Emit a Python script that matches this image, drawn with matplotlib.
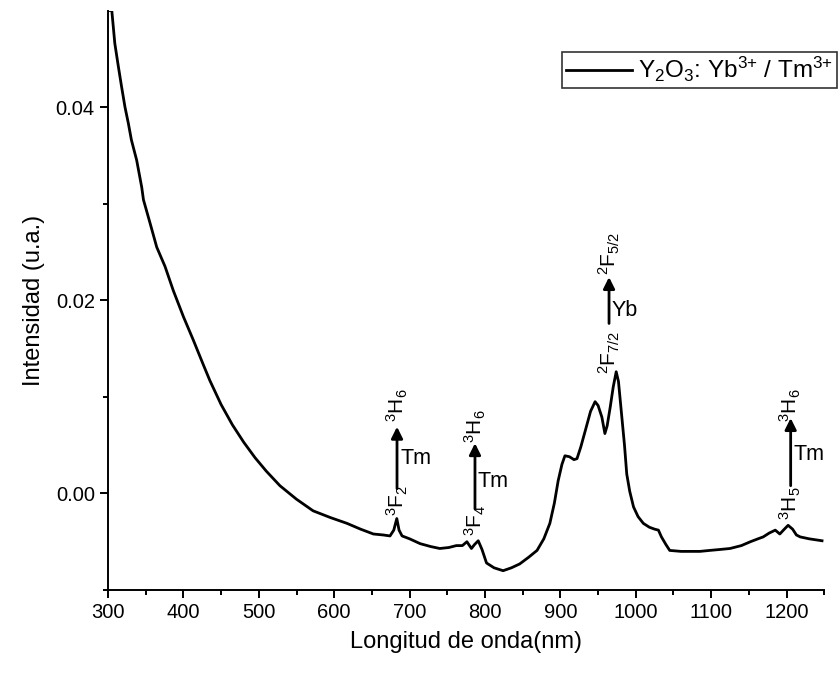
import matplotlib
matplotlib.use("Agg")
import matplotlib.pyplot as plt
from matplotlib.ticker import MultipleLocator, FixedLocator, FormatStrFormatter

plt.rcParams['font.family'] = ['Liberation Sans', 'DejaVu Sans']
plt.rcParams['mathtext.fontset'] = 'custom'
plt.rcParams['mathtext.rm'] = 'Liberation Sans'
plt.rcParams['mathtext.it'] = 'Liberation Sans:italic'
plt.rcParams['mathtext.bf'] = 'Liberation Sans:bold'
plt.rcParams['mathtext.default'] = 'regular'

# ---- data ----
wavelength = [300, 305, 309, 313.7, 318, 322.5, 327, 331, 338, 344.7, 347, 355.7, 364.6,
              375.6, 386.6, 400, 413, 426, 435, 450, 465, 480, 495, 510, 528, 550, 572,
              595, 617, 635, 652, 665, 674, 679, 683, 686, 690, 700, 714, 728, 740, 752,
              762, 770, 776, 782, 786, 791, 796, 802, 812, 824, 835, 846, 858, 869, 878,
              886, 892, 897, 902, 906, 912, 918, 922, 927, 933, 940, 946, 950, 955, 959,
              962, 966, 970, 974, 977, 981, 985, 988, 992, 997, 1003, 1010, 1018, 1025,
              1030, 1034, 1040, 1045, 1060, 1072, 1085, 1098, 1112, 1125, 1140, 1152,
              1162, 1169, 1177, 1185, 1191, 1197, 1202, 1208, 1213, 1218, 1230, 1247]
intensity = [0.0500, 0.0500, 0.0466, 0.0442, 0.0421, 0.0400, 0.0383, 0.0366, 0.0345, 0.0317,
             0.0304, 0.0280, 0.0255, 0.0235, 0.0210, 0.0183, 0.0159, 0.0134, 0.0117, 0.0092,
             0.0071, 0.0053, 0.0037, 0.0023, 0.0008, -0.0006, -0.0018, -0.0025, -0.0031,
             -0.0037, -0.0042, -0.0043, -0.0044, -0.0038, -0.0026, -0.0038, -0.0044, -0.0047,
             -0.0052, -0.0055, -0.0057, -0.0056, -0.0054, -0.0054, -0.0050, -0.0057, -0.0053,
             -0.0049, -0.0058, -0.0072, -0.0077, -0.0080, -0.0077, -0.0073, -0.0066, -0.0059,
             -0.0047, -0.0031, -0.0010, 0.0013, 0.0030, 0.0039, 0.0038, 0.0035, 0.0036, 0.0048,
             0.0065, 0.0085, 0.0095, 0.0091, 0.0079, 0.0062, 0.0070, 0.0089, 0.0110, 0.0126,
             0.0116, 0.0083, 0.0050, 0.0020, 0.0002, -0.0014, -0.0024, -0.0031, -0.0035,
             -0.0037, -0.0038, -0.0045, -0.0053, -0.0059, -0.0060, -0.0060, -0.0060, -0.0059,
             -0.0058, -0.0057, -0.0054, -0.0050, -0.0047, -0.0045, -0.0041, -0.0038, -0.0042,
             -0.0037, -0.0033, -0.0037, -0.0043, -0.0045, -0.0047, -0.0049]

series_label = r'Y$_2$O$_3$: Yb$^{3{+}}$ / Tm$^{3{+}}$'
x_label = 'Longitud de onda(nm)'
y_label = 'Intensidad (u.a.)'

# transitions: (arrow x, tail y, tip y, lower label, upper label, ion)
transitions = [
    (683.3, 0.0005, 0.0069, r'$^3$F$_2$', r'$^3$H$_6$', 'Tm'),
    (786.7, -0.0016, 0.0052, r'$^3$F$_4$', r'$^3$H$_6$', 'Tm'),
    (964.5, 0.0176, 0.0224, r'$^2$F$_{7/2}$', r'$^2$F$_{5/2}$', 'Yb'),
    (1205.4, 0.0008, 0.0078, r'$^3$H$_5$', r'$^3$H$_6$', 'Tm'),
]

fig = plt.figure(figsize=(8.4, 6.74), dpi=100)
ax = fig.add_axes([0.1286, 0.1246, 0.8527, 0.8598])

ax.plot(wavelength, intensity, color='black', lw=2.0, label=series_label)

ax.set_xlim(300, 1250)
ax.set_ylim(-0.01, 0.05)
ax.xaxis.set_major_locator(MultipleLocator(100))
ax.xaxis.set_minor_locator(MultipleLocator(50))
ax.yaxis.set_major_locator(FixedLocator([0.0, 0.02, 0.04]))
ax.yaxis.set_minor_locator(FixedLocator([-0.01, 0.01, 0.03]))
ax.yaxis.set_major_formatter(FormatStrFormatter('%.2f'))

for s in ['top', 'right']:
    ax.spines[s].set_visible(False)
for s in ['left', 'bottom']:
    ax.spines[s].set_linewidth(1.4)
ax.tick_params(which='major', direction='out', length=6, width=1.4, labelsize=14.5)
ax.tick_params(which='minor', direction='out', length=3.5, width=1.4)

ax.set_xlabel(x_label, fontsize=17, labelpad=6)
ax.set_ylabel(y_label, fontsize=17, labelpad=8)

leg = ax.legend(loc='upper right', bbox_to_anchor=(1.018, 0.929), fontsize=17.5,
                frameon=True, fancybox=False, handlelength=2.75, borderpad=0.15,
                handletextpad=0.25, borderaxespad=0.0)
leg.get_frame().set_edgecolor('black')
leg.get_frame().set_linewidth(1.2)

# annotations
lower_offsets = [-0.0012, -0.0012, -0.0030, -0.0018]
upper_offsets = [0.0022, 0.0018, 0.0025, 0.0013]
ion_offsets = [-0.0033, -0.0040, -0.0035, -0.0038]
for (xa, y0, y1, lo, up, ion), dlo, dup, dion in zip(transitions, lower_offsets,
                                                      upper_offsets, ion_offsets):
    ax.annotate('', xy=(xa, y1), xytext=(xa, y0),
                arrowprops=dict(arrowstyle='-|>', color='black', lw=2.0,
                                mutation_scale=17, shrinkA=0, shrinkB=0))
    ax.text(xa, y0 + dlo, lo, rotation=90, ha='center', va='center', fontsize=15)
    ax.text(xa, y1 + dup, up, rotation=90, ha='center', va='center', fontsize=15)
    ax.text(xa + 4, y1 + dion, ion, ha='left', va='center', fontsize=15.5)

fig.savefig('out.png', dpi=100)
